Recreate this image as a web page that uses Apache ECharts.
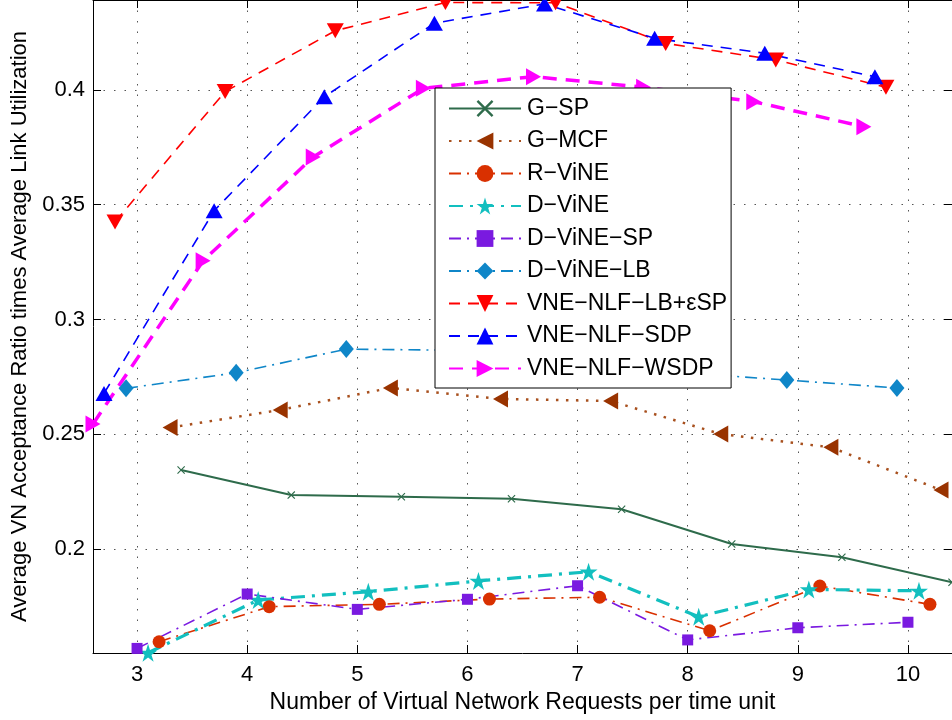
<!DOCTYPE html>
<html>
<head>
<meta charset="utf-8">
<script src="https://cdn.jsdelivr.net/npm/echarts@6/dist/echarts.min.js"></script>
<style>
html,body{margin:0;padding:0;background:#fff;}
#chart{width:952px;height:720px;}
</style>
</head>
<body>
<div id="chart"></div>
<script>
// ---- data ----
const xTicks = [3, 4, 5, 6, 7, 8, 9, 10];
const yTicks = [0.2, 0.25, 0.3, 0.35, 0.4];

const seriesNames = ['G−SP', 'G−MCF', 'R−ViNE', 'D−ViNE', 'D−ViNE−SP', 'D−ViNE−LB', 'VNE−NLF−LB+εSP', 'VNE−NLF−SDP', 'VNE−NLF−WSDP'];

const xGSP = [3.4, 4.4, 5.4, 6.4, 7.4, 8.4, 9.4, 10.4];
const yGSP = [0.2344, 0.2235, 0.2228, 0.2219, 0.2173, 0.2022, 0.1964, 0.1855];

const xGMCF = [3.3, 4.3, 5.3, 6.3, 7.3, 8.3, 9.3, 10.3];
const yGMCF = [0.2529, 0.2606, 0.2702, 0.2654, 0.2645, 0.2501, 0.2443, 0.2257];

const xRViNE = [3.2, 4.2, 5.2, 6.2, 7.2, 8.2, 9.2, 10.2];
const yRViNE = [0.1596, 0.1749, 0.1759, 0.1782, 0.1790, 0.1644, 0.1839, 0.1759];

const xDViNE = [3.1, 4.1, 5.1, 6.1, 7.1, 8.1, 9.1, 10.1];
const yDViNE = [0.1548, 0.1778, 0.1814, 0.1861, 0.1901, 0.1705, 0.1824, 0.1818];

const xDViNESP = [3.0, 4.0, 5.0, 6.0, 7.0, 8.0, 9.0, 10.0];
const yDViNESP = [0.1567, 0.1804, 0.1737, 0.1781, 0.1840, 0.1604, 0.1657, 0.1681];

const xDViNELB = [2.9, 3.9, 4.9, 5.9, 6.9, 7.9, 8.9, 9.9];
const yDViNELB = [0.2700, 0.2768, 0.2871, 0.2866, 0.2825, 0.2770, 0.2736, 0.2702];

const xLBeSP = [2.8, 3.8, 4.8, 5.8, 6.8, 7.8, 8.8, 9.8];
const yLBeSP = [0.3425, 0.3993, 0.4258, 0.4381, 0.4380, 0.4203, 0.4131, 0.4012];

const xSDP = [2.7, 3.7, 4.7, 5.7, 6.7, 7.7, 8.7, 9.7];
const ySDP = [0.2678, 0.3474, 0.3970, 0.4291, 0.4375, 0.4225, 0.4160, 0.4058];

const xWSDP = [2.6, 3.6, 4.6, 5.6, 6.6, 7.6, 8.6, 9.6];
const yWSDP = [0.2545, 0.3256, 0.3708, 0.4007, 0.4058, 0.4012, 0.3949, 0.3840];

// ---- styling ----
const FONT = 'Liberation Sans, Arial, Helvetica, sans-serif';
const crossPath = 'path://M0,1L1,0L5,4L9,0L10,1L6,5L10,9L9,10L5,6L1,10L0,9L4,5Z';
const starPath = 'path://M50,0L61.23,34.55L97.55,34.55L68.17,55.9L79.39,90.45L50,69.1L20.61,90.45L31.83,55.9L2.45,34.55L38.77,34.55Z';

function pairs(xs, ys) { return xs.map((x, i) => [x, ys[i]]); }

function mk(name, xs, ys, color, lineColor, width, dash, symbol, size, rotate) {
  return {
    name: name,
    type: 'line',
    data: pairs(xs, ys),
    clip: false,
    symbol: symbol,
    symbolSize: size,
    symbolRotate: rotate || 0,
    showAllSymbol: true,
    animation: false,
    lineStyle: { color: lineColor, width: width, type: dash },
    itemStyle: { color: color, borderWidth: 0 },
    emphasis: { disabled: true }
  };
}

const series = [
  mk(seriesNames[0], xGSP, yGSP, '#2E6B4B', '#2E6B4B', 2, 'solid', crossPath, 8, 0),
  mk(seriesNames[1], xGMCF, yGMCF, '#993300', '#A8501E', 2.5, [2.5, 7.5], 'triangle', [17, 15], 90),
  mk(seriesNames[2], xRViNE, yRViNE, '#D93000', '#D93000', 1.6, [12, 6, 2, 6], 'circle', 13, 0),
  mk(seriesNames[3], xDViNE, yDViNE, '#12BFBF', '#12BFBF', 3.2, [14, 7, 3, 7], starPath, 18, 0),
  mk(seriesNames[4], xDViNESP, yDViNESP, '#7A1AE0', '#7A1AE0', 1.6, [12, 6, 2, 6], 'rect', 11, 0),
  mk(seriesNames[5], xDViNELB, yDViNELB, '#0F86C8', '#0F86C8', 1.6, [12, 6, 2, 6], 'diamond', [15, 18], 0),
  mk(seriesNames[6], xLBeSP, yLBeSP, '#FF0000', '#FF0000', 1.6, [11, 8], 'triangle', [17, 15], 180),
  mk(seriesNames[7], xSDP, ySDP, '#0000FF', '#0000FF', 1.6, [11, 8], 'triangle', [17, 15], 0),
  mk(seriesNames[8], xWSDP, yWSDP, '#FF00FF', '#FF00FF', 3.5, [14, 9], 'triangle', [17, 15], -90)
];

const axisLineStyle = { color: '#000', width: 1 };
const gridLine = { show: true, lineStyle: { color: '#555', width: 1, type: [1.5, 9] } };

const option = {
  backgroundColor: '#fff',
  animation: false,
  textStyle: { fontFamily: FONT },
  grid: { left: 93, top: 0, width: 862, height: 653, containLabel: false },
  legend: {
    orient: 'vertical',
    left: 435,
    top: 88,
    data: seriesNames,
    itemWidth: 72,
    itemHeight: 21,
    itemGap: 9.5,
    padding: [9, 4, 8, 13],
    backgroundColor: '#fff',
    borderColor: '#000',
    borderWidth: 1,
    borderRadius: 0,
    textStyle: { fontFamily: FONT, fontSize: 23, color: '#000', padding: [0, 0, 0, 1] },
    selectedMode: false,
    z: 10
  },
  xAxis: [
    {
      type: 'value', min: 2.6, max: 10.4, position: 'bottom',
      name: 'Number of Virtual Network Requests per time unit',
      nameLocation: 'middle', nameGap: 37,
      nameTextStyle: { fontFamily: FONT, fontSize: 23, color: '#000' },
      axisLine: { show: true, onZero: false, lineStyle: axisLineStyle },
      axisTick: { show: true, inside: true, length: 8, customValues: xTicks, lineStyle: axisLineStyle },
      axisLabel: { show: true, customValues: xTicks, margin: 11, fontFamily: FONT, fontSize: 22, color: '#000' },
      splitLine: gridLine
    },
    {
      type: 'value', min: 2.6, max: 10.4, position: 'top',
      axisLine: { show: true, onZero: false, lineStyle: axisLineStyle },
      axisTick: { show: true, inside: true, length: 8, customValues: xTicks, lineStyle: axisLineStyle },
      axisLabel: { show: false },
      splitLine: { show: false }
    }
  ],
  yAxis: [
    {
      type: 'value', min: 0.1547, max: 0.4392, position: 'left',
      name: 'Average VN Acceptance Ratio times Average Link Utilization',
      nameLocation: 'middle', nameGap: 60, nameRotate: 90,
      nameTextStyle: { fontFamily: FONT, fontSize: 22, color: '#000' },
      axisLine: { show: true, onZero: false, lineStyle: axisLineStyle },
      axisTick: { show: true, inside: true, length: 8, customValues: yTicks, lineStyle: axisLineStyle },
      axisLabel: { show: true, customValues: yTicks, margin: 8, fontFamily: FONT, fontSize: 22, color: '#000' },
      splitLine: gridLine
    },
    {
      type: 'value', min: 0.1547, max: 0.4392, position: 'right',
      axisLine: { show: true, onZero: false, lineStyle: axisLineStyle },
      axisTick: { show: true, inside: true, length: 8, customValues: yTicks, lineStyle: axisLineStyle },
      axisLabel: { show: false },
      splitLine: { show: false }
    }
  ],
  series: series
};

const chart = echarts.init(document.getElementById('chart'), null, { renderer: 'canvas' });
chart.setOption(option);
</script>
</body>
</html>
